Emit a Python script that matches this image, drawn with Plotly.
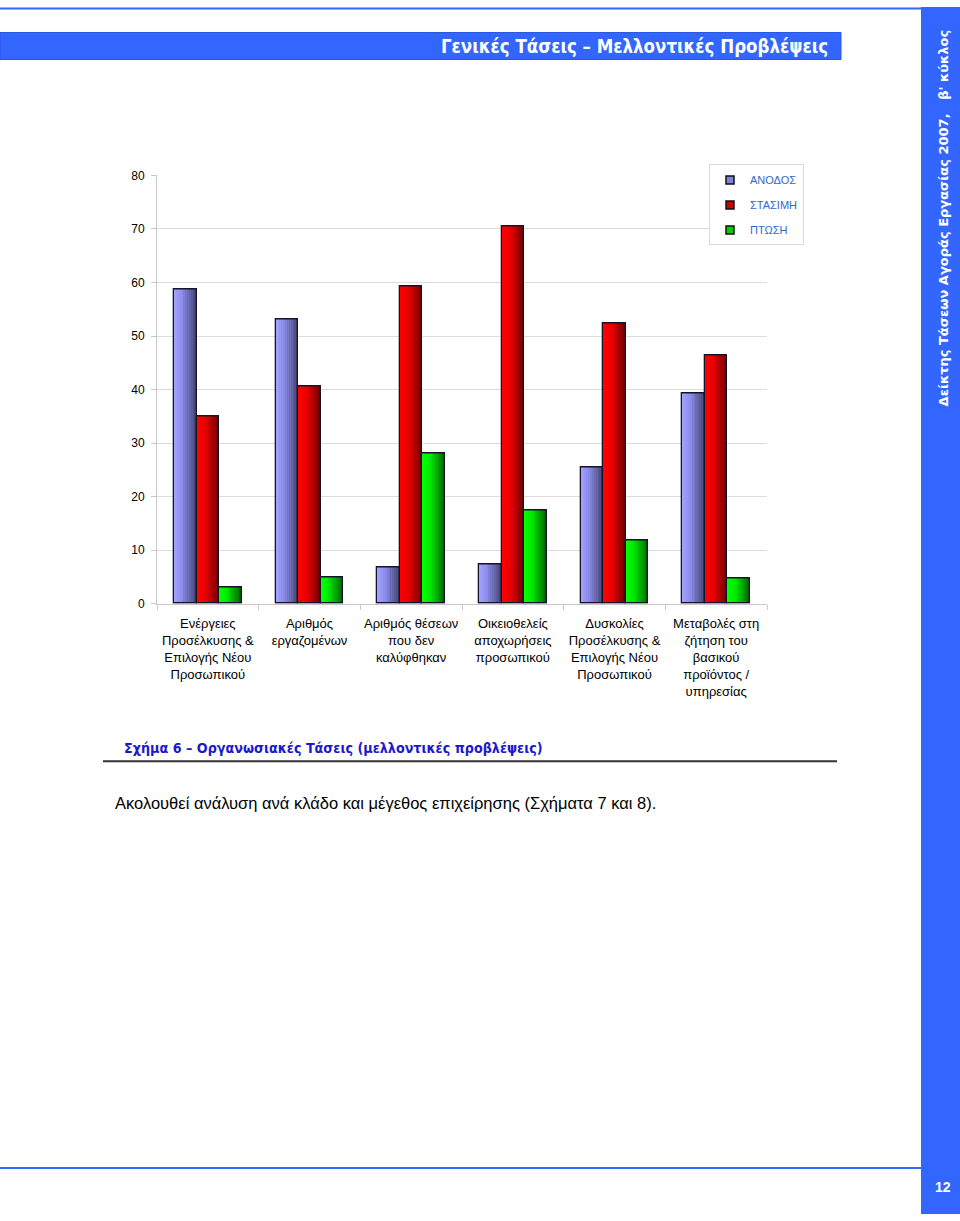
import plotly.graph_objects as go

# ---------------- data ----------------
category_labels = [
    "Ενέργειες<br>Προσέλκυσης &<br>Επιλογής Νέου<br>Προσωπικού",
    "Αριθμός<br>εργαζομένων",
    "Αριθμός θέσεων<br>που δεν<br>καλύφθηκαν",
    "Οικειοθελείς<br>αποχωρήσεις<br>προσωπικού",
    "Δυσκολίες<br>Προσέλκυσης &<br>Επιλογής Νέου<br>Προσωπικού",
    "Μεταβολές στη<br>ζήτηση του<br>βασικού<br>προϊόντος /<br>υπηρεσίας",
]
series_names = ["ΑΝΟΔΟΣ", "ΣΤΑΣΙΜΗ", "ΠΤΩΣΗ"]
anodos = [58.7, 53.1, 6.8, 7.3, 25.5, 39.3]
stasimi = [35.0, 40.6, 59.3, 70.5, 52.4, 46.3]
ptosi = [3.0, 4.9, 28.0, 17.4, 11.8, 4.8]
y_ticks = [0, 10, 20, 30, 40, 50, 60, 70, 80]

# ---------------- styling ----------------
W, H = 960, 1221
# the photographed page shows a slight vertical inset; compensate for it
OFF, SC = 6.5, 0.989
BLUE = "#3366ff"
grad = {
    "ΑΝΟΔΟΣ": [(0.0, (160, 160, 255)), (0.35, (138, 138, 232)), (1.0, (72, 72, 120))],
    "ΣΤΑΣΙΜΗ": [(0.0, (255, 0, 0)), (0.35, (235, 0, 0)), (1.0, (118, 0, 0))],
    "ΠΤΩΣΗ": [(0.0, (0, 255, 0)), (0.35, (0, 230, 0)), (1.0, (0, 105, 0))],
}
legend_col = {"ΑΝΟΔΟΣ": "#8080e0", "ΣΤΑΣΙΜΗ": "#cc0000", "ΠΤΩΣΗ": "#00cc00"}


def interp(stops, t):
    for (t0, c0), (t1, c1) in zip(stops[:-1], stops[1:]):
        if t0 <= t <= t1:
            f = (t - t0) / (t1 - t0) if t1 > t0 else 0
            c = [round(a + (b - a) * f) for a, b in zip(c0, c1)]
            return "rgb(%d,%d,%d)" % tuple(c)
    c = stops[-1][1]
    return "rgb(%d,%d,%d)" % c


def px_x(p):
    return p / W


def px_y(p):
    v = 1 - ((p - OFF) / SC) / H
    return min(1.0, max(0.0, v))


xs = list(range(len(category_labels)))
bw = 0.222
start = -1.5 * bw
N = 12

fig = go.Figure()
for s, (name, vals) in enumerate(zip(series_names, [anodos, stasimi, ptosi])):
    base = start + s * bw
    for k in range(N):
        t = k / (N - 1)
        fig.add_trace(go.Bar(
            x=xs, y=vals, width=bw - k * bw / N, offset=base + k * bw / N,
            marker=dict(color=interp(grad[name], t), line=dict(width=0)),
            showlegend=False, legendgroup=name, hoverinfo="skip",
        ))
    fig.add_trace(go.Bar(
        x=xs, y=vals, width=bw, offset=base, name=name,
        marker=dict(color="rgba(0,0,0,0)", line=dict(color="#141428", width=1.3)),
        showlegend=False, legendgroup=name,
    ))
for name in series_names:
    fig.add_trace(go.Scatter(
        x=[None], y=[None], mode="markers", name=name, legendgroup=name,
        marker=dict(symbol="square", size=8, color=legend_col[name],
                    line=dict(color="#111", width=1.5)),
    ))

fig.update_layout(
    width=W, height=H, margin=dict(l=0, r=0, t=0, b=0),
    paper_bgcolor="white", plot_bgcolor="white",
    barmode="overlay", bargap=0,
    font=dict(family="Arial, Liberation Sans, sans-serif", size=12, color="#000"),
    showlegend=True,
    legend=dict(
        x=px_x(709), y=px_y(164), xanchor="left", yanchor="top",
        bgcolor="white", bordercolor="#d9d9d9", borderwidth=1,
        font=dict(size=11, color="#3366cc"), tracegroupgap=6,
    ),
    xaxis=dict(
        domain=[px_x(157), px_x(767)], range=[-0.5, 5.5],
        tickvals=xs, ticktext=category_labels, ticks="",
        showline=True, linecolor="#c8c8c8", linewidth=1,
        showgrid=False, zeroline=False, tickfont=dict(size=13),
        ticklabelstandoff=8,
        minor=dict(tickvals=[i + 0.5 for i in range(-1, 6)], ticks="outside",
                   ticklen=5, tickcolor="#c8c8c8", showgrid=False),
        fixedrange=True,
    ),
    yaxis=dict(
        domain=[px_y(603.5), px_y(175)], range=[0, 80],
        tickvals=y_ticks, ticks="outside", ticklen=5, tickcolor="#c8c8c8",
        showline=True, linecolor="#c8c8c8", linewidth=1,
        showgrid=True, gridcolor="#dcdcdc", gridwidth=1, zeroline=False,
        tickfont=dict(size=12), ticklabelstandoff=4, fixedrange=True,
    ),
)

shapes = [
    dict(type="line", xref="paper", yref="paper", x0=0, x1=px_x(921), y0=px_y(8), y1=px_y(8),
         line=dict(color=BLUE, width=2)),
    dict(type="rect", xref="paper", yref="paper", x0=0, x1=px_x(841), y0=px_y(59), y1=px_y(32),
         fillcolor=BLUE, line=dict(color="#2a55e0", width=1)),
    dict(type="rect", xref="paper", yref="paper", x0=px_x(921), x1=1, y0=px_y(1215), y1=px_y(0),
         fillcolor=BLUE, line=dict(width=0)),
    dict(type="line", xref="paper", yref="paper", x0=0, x1=px_x(921), y0=px_y(1168), y1=px_y(1168),
         line=dict(color=BLUE, width=2)),
    dict(type="line", xref="paper", yref="paper", x0=px_x(103), x1=px_x(837), y0=px_y(761), y1=px_y(761),
         line=dict(color="#333333", width=2)),
]
fig.update_layout(shapes=shapes)

annotations = [
    dict(text="<b>Γενικές Τάσεις – Μελλοντικές Προβλέψεις</b>", x=px_x(830), y=px_y(46),
         xanchor="right", yanchor="middle",
         font=dict(family="Liberation Sans Narrow, Arial Narrow, DejaVu Sans Condensed, sans-serif",
                   size=18.5, color="white")),
    dict(text="<b>Δείκτης Τάσεων Αγοράς Εργασίας 2007,\u00a0\u00a0\u00a0β' κύκλος</b>",
         x=px_x(943), y=px_y(218), xanchor="center", yanchor="middle", textangle=-90,
         font=dict(family="DejaVu Sans, Verdana, sans-serif", size=13, color="white")),
    dict(text="<b>12</b>", x=px_x(943), y=px_y(1187), xanchor="center", yanchor="middle",
         font=dict(family="Arial, Liberation Sans, sans-serif", size=14, color="white")),
    dict(text="<b>Σχήμα 6 – Οργανωσιακές Τάσεις (μελλοντικές προβλέψεις)</b>",
         x=px_x(122), y=px_y(748), xanchor="left", yanchor="middle",
         font=dict(family="Liberation Sans Narrow, Arial Narrow, DejaVu Sans Condensed, sans-serif",
                   size=14.2, color="#1a1acc")),
    dict(text="Ακολουθεί ανάλυση ανά κλάδο και μέγεθος επιχείρησης (Σχήματα 7 και 8).",
         x=px_x(113), y=px_y(803), xanchor="left", yanchor="middle",
         font=dict(family="Arial, Liberation Sans, sans-serif", size=16.5, color="#000")),
]
for a in annotations:
    a.update(xref="paper", yref="paper", showarrow=False)
fig.update_layout(annotations=annotations)

fig.write_html("out.html")
